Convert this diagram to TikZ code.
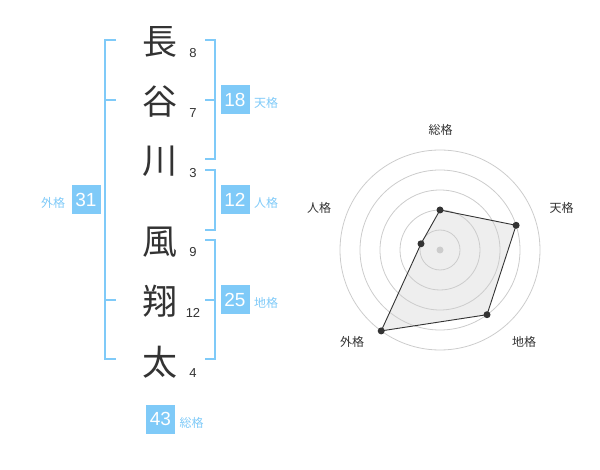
\documentclass[tikz,border=0pt]{standalone}
\usepackage{fontspec}
\setmainfont{Liberation Sans}
\newfontfamily\cjk{Noto Sans CJK JP}
\definecolor{bl}{RGB}{127,202,248}
\definecolor{ink}{RGB}{51,51,51}
\definecolor{ring}{RGB}{204,204,204}
\definecolor{area}{RGB}{238,238,238}
\tikzset{
  kanji/.style={text=ink,font=\cjk\fontsize{35pt}{35pt}\selectfont,inner sep=0pt},
  num/.style={text=ink,font=\fontsize{13pt}{13pt}\selectfont,inner sep=0pt},
  br/.style={draw=bl,line width=2pt},
  box/.style={fill=bl,text=white,minimum width=29pt,minimum height=29pt,inner sep=0pt,font=\fontsize{19pt}{19pt}\selectfont},
  lab/.style={text=bl,font=\cjk\fontsize{12pt}{12pt}\selectfont,inner sep=0pt},
  rlab/.style={text=ink,font=\cjk\fontsize{12pt}{12pt}\selectfont,inner sep=0pt},
  ringline/.style={draw=ring,line width=0.8pt},
  dot/.style={fill=ink}
}
\begin{document}
\begin{tikzpicture}[x=1pt,y=-1pt]
\useasboundingbox (0,0) rectangle (600,470);
% name characters
\node[kanji] (c1) at (160,42) {長};
\node[kanji] (c2) at (160,102) {谷};
\node[kanji] (c3) at (160,161) {川};
\node[kanji] (c4) at (160,242) {風};
\node[kanji] (c5) at (160,301) {翔};
\node[kanji] (c6) at (160,362) {太};
% stroke counts
\node[num] (n1) at (193,53) {8};
\node[num] (n2) at (193,113) {7};
\node[num] (n3) at (193,173) {3};
\node[num] (n4) at (193,252) {9};
\node[num] (n5) at (193,313) {12};
\node[num] (n6) at (193,373) {4};
% left bracket (gaikaku)
\draw[br] (116,40) -- (105,40) -- (105,359) -- (116,359);
\draw[br] (105,100) -- (116,100);
\draw[br] (105,300) -- (116,300);
% right brackets
\draw[br] (205,40) -- (215,40) -- (215,159) -- (205,159);
\draw[br] (205,100) -- (215,100);
\draw[br] (205,170) -- (215,170) -- (215,230) -- (205,230);
\draw[br] (205,240) -- (215,240) -- (215,359) -- (205,359);
\draw[br] (205,300) -- (215,300);
% boxes
\node[box] (b31) at (86,200) {31};
\node[lab] (l31) at (53,203) {外格};
\node[box] (b18) at (235,100) {18};
\node[lab] (l18) at (266,103) {天格};
\node[box] (b12) at (235,200) {12};
\node[lab] (l12) at (266,203) {人格};
\node[box] (b25) at (235,300) {25};
\node[lab] (l25) at (266,303) {地格};
\node[box] (b43) at (160.5,419) {43};
\node[lab] (l43) at (191.5,423) {総格};
% radar chart
\coordinate (o) at (440,250);
\coordinate (p1) at (440,210);
\coordinate (p2) at (516.1,225.3);
\coordinate (p3) at (487.0,314.7);
\coordinate (p4) at (381.2,330.9);
\coordinate (p5) at (421.0,243.8);
\fill[area] (p1) -- (p2) -- (p3) -- (p4) -- (p5) -- cycle;
\foreach \r in {20,40,60,80,100} \draw[ringline] (o) circle (\r);
\fill[ring] (o) circle (3.5);
\draw[ink,line width=0.9pt] (p1) -- (p2) -- (p3) -- (p4) -- (p5) -- cycle;
\foreach \p in {p1,p2,p3,p4,p5} \fill[dot] (\p) circle (3.5);
\node[rlab] (r1) at (440.5,130) {総格};
\node[rlab] (r2) at (561.5,208) {天格};
\node[rlab] (r3) at (524,342) {地格};
\node[rlab] (r4) at (352,342) {外格};
\node[rlab] (r5) at (319,208) {人格};
\end{tikzpicture}
\end{document}
